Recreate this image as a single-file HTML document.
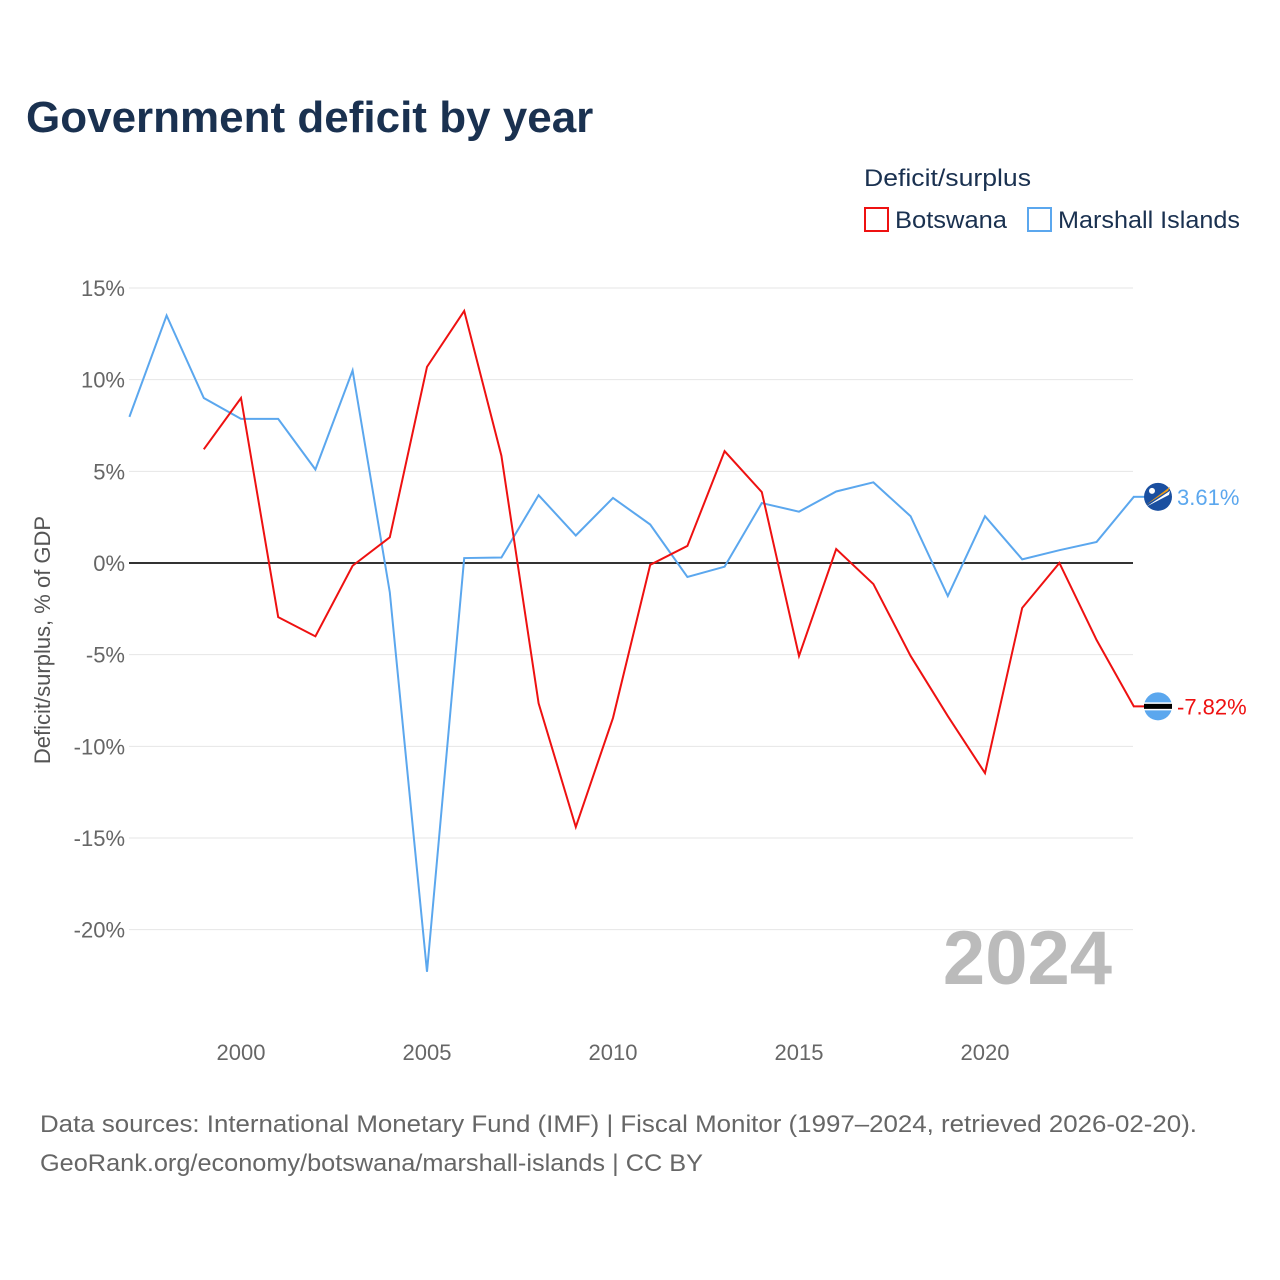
<!DOCTYPE html>
<html><head><meta charset="utf-8"><style>
body{margin:0;background:#fff;font-family:"Liberation Sans",sans-serif;}
#wrap{position:relative;width:1280px;height:1280px;overflow:hidden;}
</style></head><body>
<div id="wrap">
<svg id="chart" width="1280" height="1280" xmlns="http://www.w3.org/2000/svg">
<text x="26" y="132" font-size="44" font-weight="bold" fill="#1a3150">Government deficit by year</text>
<text x="864" y="186" font-size="24" fill="#1a3150" textLength="167" lengthAdjust="spacingAndGlyphs">Deficit/surplus</text>
<g><rect x="865" y="208" width="23" height="23" fill="none" stroke="#ee1111" stroke-width="2"/><text x="895" y="228" font-size="24" fill="#1a3150" textLength="112" lengthAdjust="spacingAndGlyphs">Botswana</text></g>
<g><rect x="1028" y="208" width="23" height="23" fill="none" stroke="#5ba7ee" stroke-width="2"/><text x="1058" y="228" font-size="24" fill="#1a3150" textLength="182" lengthAdjust="spacingAndGlyphs">Marshall Islands</text></g>
<text transform="translate(50,640) rotate(-90)" text-anchor="middle" font-size="22" fill="#555">Deficit/surplus, % of GDP</text>
<g id="grid"></g><g id="series"></g>
<text x="1112" y="984" text-anchor="end" font-size="76" font-weight="bold" fill="#bbb">2024</text>
<text x="40" y="1132" font-size="24" fill="#666" textLength="1157" lengthAdjust="spacingAndGlyphs">Data sources: International Monetary Fund (IMF) | Fiscal Monitor (1997–2024, retrieved 2026-02-20).</text>
<text x="40" y="1171" font-size="24" fill="#666" textLength="663" lengthAdjust="spacingAndGlyphs">GeoRank.org/economy/botswana/marshall-islands | CC BY</text>
</svg></div>
<script>
const years=[1997,1998,1999,2000,2001,2002,2003,2004,2005,2006,2007,2008,2009,2010,2011,2012,2013,2014,2015,2016,2017,2018,2019,2020,2021,2022,2023,2024];
const marshall=[7.97,13.5,9.0,7.86,7.86,5.1,10.5,-1.6,-22.3,0.27,0.3,3.7,1.5,3.55,2.1,-0.76,-0.2,3.27,2.8,3.9,4.4,2.55,-1.8,2.55,0.2,0.7,1.15,3.61];
const botswana=[null,null,6.2,9.0,-2.95,-4.0,-0.15,1.4,10.7,13.75,5.85,-7.65,-14.4,-8.45,-0.1,0.93,6.1,3.87,-5.07,0.76,-1.15,-5.07,-8.35,-11.46,-2.45,0,-4.2,-7.82];
const yTicks=[15,10,5,0,-5,-10,-15,-20];
const xTicks=[2000,2005,2010,2015,2020];
const NS="http://www.w3.org/2000/svg";
const X=y=>241+(y-2000)*37.2;
const Y=v=>563-v*18.333;
const grid=document.getElementById('grid'),ser=document.getElementById('series');
function mk(tag,attrs,parent){const e=document.createElementNS(NS,tag);for(const k in attrs)e.setAttribute(k,attrs[k]);parent.appendChild(e);return e;}
yTicks.forEach(t=>{
 const l=mk('line',{x1:129,x2:1133,y1:Y(t),y2:Y(t),stroke:t===0?'#333':'#e6e6e6','stroke-width':t===0?2:1},grid);
 
 
 const tx=mk('text',{x:125,y:Y(t)+8,'text-anchor':'end','font-size':22,fill:'#666'},grid);
 tx.textContent=t+'%';
 
 
});
xTicks.forEach(t=>{
 const tx=mk('text',{x:X(t),y:1060,'text-anchor':'middle','font-size':22,fill:'#666'},grid);
 tx.textContent=t;
 
 
});
function line(vals,color,name){
 let d='';vals.forEach((v,i)=>{if(v==null)return;d+=(d?'L':'M')+X(years[i])+','+Y(v);});
 const p=mk('path',{d:d,fill:'none',stroke:color,'stroke-width':2},ser);
 
 
}
line(marshall,'#5ba7ee','series-marshall-islands');
line(botswana,'#ee1111','series-botswana');
function endLabel(v,color,name,flag){
 const y=Y(v);
 mk('line',{x1:1133,x2:1145,y1:y,y2:y,stroke:color,'stroke-width':2},ser);
 const g=mk('g',{},ser);
 
 
 if(flag==='flag-marshall-islands'){
  mk('circle',{cx:1158,cy:y,r:14,fill:'#1a4fa0'},g);
  mk('path',{d:`M${1146},${y+8}L${1170},${y-10}L${1168},${y-6}Z`,fill:'#f39c12'},g);
  mk('path',{d:`M${1146},${y+10}L${1170},${y-6}L${1169},${y-2}Z`,fill:'#fff'},g);
  mk('circle',{cx:1152,cy:y-6,r:3,fill:'#fff'},g);
 }else{
  mk('circle',{cx:1158,cy:y,r:14,fill:'#5ba7ee'},g);
  mk('rect',{x:1144,y:y-4,width:28,height:8,fill:'#fff'},g);
  mk('rect',{x:1144,y:y-2.5,width:28,height:5,fill:'#000'},g);
 }
 const t=mk('text',{x:1177,y:y+8,'font-size':22,fill:color},ser);
 t.textContent=v.toFixed(2)+'%';
 
 
}
endLabel(marshall[marshall.length-1],'#5ba7ee','end-label-marshall-islands','flag-marshall-islands');
endLabel(botswana[botswana.length-1],'#ee1111','end-label-botswana','flag-botswana');
</script>
</body></html>
